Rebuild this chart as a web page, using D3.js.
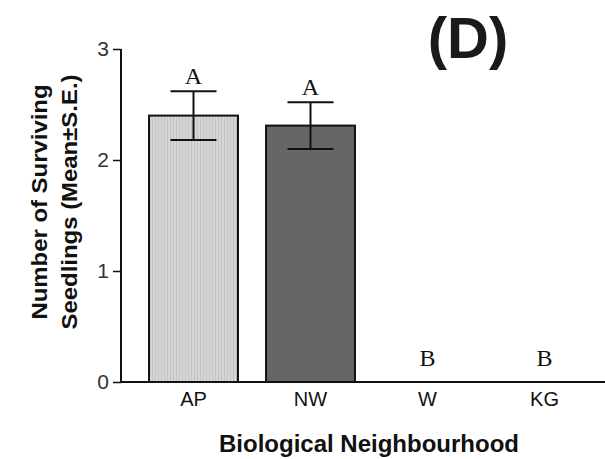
<!DOCTYPE html>
<html>
<head>
<meta charset="utf-8">
<script src="https://cdn.jsdelivr.net/npm/d3@7.9.0/dist/d3.min.js"></script>
<style>
  html, body { margin: 0; padding: 0; background: #fff; }
  svg { display: block; }
</style>
</head>
<body>
<div id="chart"></div>
<script>
// ------------------- Data -------------------
const categories = ['AP', 'NW', 'W', 'KG'];
const means = [2.40, 2.31, 0, 0];
const errors = [0.22, 0.21, 0, 0];
const groupLetters = ['A', 'A', 'B', 'B'];
const fills = ['url(#ap-texture)', '#666666', 'none', 'none'];
const yTicks = [0, 1, 2, 3];

const rows = categories.map((c, i) => ({
  cat: c, mean: means[i], se: errors[i], letter: groupLetters[i], fill: fills[i]
}));

// ------------------- Layout -------------------
const width = 605, height = 459;
const axisLeft = 121, axisBottom = 382, axisTop = 49;

const svg = d3.select('#chart')
  .append('svg')
  .attr('width', width)
  .attr('height', height);

// light grey texture for the AP bar
const pat = svg.append('defs').append('pattern')
  .attr('id', 'ap-texture')
  .attr('patternUnits', 'userSpaceOnUse')
  .attr('width', 3).attr('height', 3);
pat.append('rect').attr('width', 3).attr('height', 3).attr('fill', '#d6d6d6');
pat.append('rect').attr('x', 2).attr('width', 1).attr('height', 3).attr('fill', '#c2c2c2');

const x = d3.scaleBand()
  .domain(categories)
  .range([135, 603])
  .paddingInner(0.24)
  .paddingOuter(0.12);

const y = d3.scaleLinear().domain([0, 3]).range([axisBottom, axisTop]);

// ------------------- Bars -------------------
svg.append('g')
  .selectAll('rect')
  .data(rows.filter(d => d.mean > 0))
  .join('rect')
  .attr('x', d => x(d.cat))
  .attr('y', d => y(d.mean))
  .attr('width', x.bandwidth())
  .attr('height', d => y(0) - y(d.mean))
  .attr('fill', d => d.fill)
  .attr('stroke', '#111')
  .attr('stroke-width', 2);

// ------------------- Error bars -------------------
const eb = svg.append('g')
  .attr('stroke', '#111')
  .attr('stroke-width', 2)
  .selectAll('g')
  .data(rows.filter(d => d.se > 0))
  .join('g');

const capW = 23;
eb.append('line')
  .attr('x1', d => x(d.cat) + x.bandwidth() / 2)
  .attr('x2', d => x(d.cat) + x.bandwidth() / 2)
  .attr('y1', d => y(d.mean - d.se))
  .attr('y2', d => y(d.mean + d.se));
eb.selectAll('line.cap')
  .data(d => [{ d, v: d.mean + d.se }, { d, v: d.mean - d.se }])
  .join('line')
  .attr('class', 'cap')
  .attr('x1', e => x(e.d.cat) + x.bandwidth() / 2 - capW)
  .attr('x2', e => x(e.d.cat) + x.bandwidth() / 2 + capW)
  .attr('y1', e => y(e.v))
  .attr('y2', e => y(e.v));

// ------------------- Group letters -------------------
svg.append('g')
  .selectAll('text')
  .data(rows)
  .join('text')
  .attr('x', d => x(d.cat) + x.bandwidth() / 2)
  .attr('y', d => y(d.mean + d.se) - (d.se > 0 ? 7 : 16))
  .attr('text-anchor', 'middle')
  .style('font-family', '"Liberation Serif", "Times New Roman", serif')
  .style('font-size', '24px')
  .attr('fill', '#111')
  .text(d => d.letter);

// ------------------- Axes -------------------
const yAxis = svg.append('g')
  .attr('transform', `translate(${axisLeft},0)`)
  .call(d3.axisLeft(y).tickValues(yTicks).tickFormat(d3.format('d')).tickSize(8).tickPadding(4));
yAxis.select('.domain').attr('stroke', '#111').attr('stroke-width', 2).attr('d', `M0,${axisTop}V${axisBottom}`);
yAxis.selectAll('.tick line').attr('stroke', '#111').attr('stroke-width', 1.5);
yAxis.selectAll('.tick text')
  .style('font-family', '"Liberation Sans Narrow", "Liberation Sans", Arial, sans-serif')
  .style('font-size', '21px')
  .attr('fill', '#333');

const xAxis = svg.append('g')
  .attr('transform', `translate(0,${axisBottom})`)
  .call(d3.axisBottom(x).tickSize(0).tickPadding(10));
xAxis.select('.domain').attr('stroke', '#111').attr('stroke-width', 2).attr('d', `M${axisLeft},0H${width}`);
xAxis.selectAll('.tick text')
  .style('font-family', '"Liberation Sans", Arial, sans-serif')
  .style('font-size', '20px')
  .attr('fill', '#111');

// ------------------- Titles -------------------
svg.append('text')
  .attr('x', 369)
  .attr('y', 452)
  .attr('text-anchor', 'middle')
  .style('font-family', '"Liberation Sans", Arial, sans-serif')
  .style('font-weight', 'bold')
  .style('font-size', '24px')
  .attr('fill', '#111')
  .text('Biological Neighbourhood');

const yTitle = ['Number of Surviving', 'Seedlings (Mean\u00b1S.E.)'];
const yTitleX = [47, 77];
const yTitleLen = [235, 255];
svg.append('g')
  .selectAll('text')
  .data(yTitle)
  .join('text')
  .attr('transform', (d, i) => `translate(${yTitleX[i]},202) rotate(-90)`)
  .attr('text-anchor', 'middle')
  .attr('textLength', (d, i) => yTitleLen[i])
  .attr('lengthAdjust', 'spacingAndGlyphs')
  .style('font-family', '"Liberation Sans", Arial, sans-serif')
  .style('font-weight', 'bold')
  .style('font-size', '22px')
  .attr('fill', '#111')
  .text(d => d);

svg.append('text')
  .attr('x', 468)
  .attr('y', 58)
  .attr('text-anchor', 'middle')
  .style('font-family', '"Liberation Sans", Arial, sans-serif')
  .style('font-weight', 'bold')
  .style('font-size', '58px')
  .attr('fill', '#1a1a1a')
  .text('(D)');
</script>
</body>
</html>
